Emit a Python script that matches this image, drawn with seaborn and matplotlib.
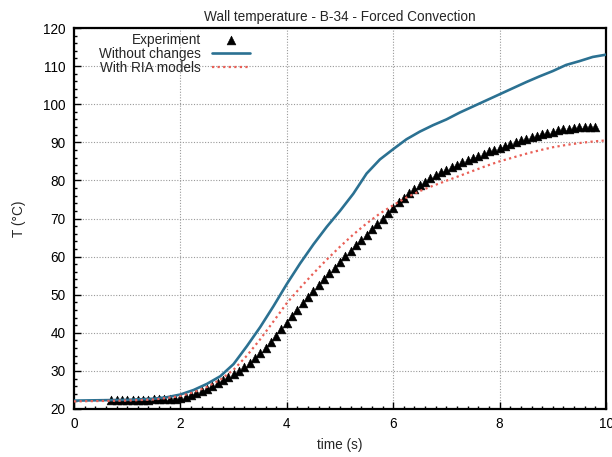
import matplotlib
matplotlib.use("Agg")
import matplotlib.pyplot as plt
import seaborn as sns
import pandas as pd
import numpy as np

# ---------------- data ----------------
exp_t = [0.7, 0.8, 0.9, 1.0, 1.1, 1.2, 1.3, 1.4, 1.5, 1.6, 1.7, 1.8, 1.9,
         2.0, 2.1, 2.2, 2.3, 2.4, 2.5, 2.6, 2.7, 2.8, 2.9, 3.0, 3.1, 3.2,
         3.3, 3.4, 3.5, 3.6, 3.7, 3.8, 3.9, 4.0, 4.1, 4.2, 4.3, 4.4, 4.5,
         4.6, 4.7, 4.8, 4.9, 5.0, 5.1, 5.2, 5.3, 5.4, 5.5, 5.6, 5.7, 5.8,
         5.9, 6.0, 6.1, 6.2, 6.3, 6.4, 6.5, 6.6, 6.7, 6.8, 6.9, 7.0, 7.1,
         7.2, 7.3, 7.4, 7.5, 7.6, 7.7, 7.8, 7.9, 8.0, 8.1, 8.2, 8.3, 8.4,
         8.5, 8.6, 8.7, 8.8, 8.9, 9.0, 9.1, 9.2, 9.3, 9.4, 9.5, 9.6, 9.7, 9.8]
exp_T = [22.3, 22.3, 22.3, 22.3, 22.3, 22.3, 22.4, 22.4, 22.5, 22.5, 22.6, 22.6, 22.7,
         22.9, 23.2, 23.6, 24.1, 24.7, 25.3, 26.0, 26.8, 27.6, 28.4, 29.2, 30.1, 31.1,
         32.2, 33.4, 34.7, 36.1, 37.6, 39.2, 40.9, 42.6, 44.3, 46.0, 47.7, 49.4, 51.0,
         52.6, 54.1, 55.6, 57.1, 58.6, 60.1, 61.6, 63.0, 64.4, 65.8, 67.2, 68.6, 70.0,
         71.4, 72.8, 74.2, 75.5, 76.7, 77.8, 78.8, 79.7, 80.6, 81.4, 82.1, 82.8, 83.5,
         84.1, 84.7, 85.3, 85.9, 86.5, 87.0, 87.6, 88.1, 88.6, 89.1, 89.6, 90.1, 90.5,
         90.9, 91.3, 91.7, 92.1, 92.5, 92.8, 93.1, 93.4, 93.6, 93.8, 94.0, 94.1, 94.1, 94.0]

sim_t = [0.0, 0.5, 1.0, 1.5, 1.75, 2.0, 2.25, 2.5, 2.75, 3.0, 3.25, 3.5, 3.75,
         4.0, 4.25, 4.5, 4.75, 5.0, 5.25, 5.5, 5.75, 6.0, 6.25, 6.5, 6.75,
         7.0, 7.25, 7.5, 7.75, 8.0, 8.25, 8.5, 8.75, 9.0, 9.25, 9.5, 9.75, 10.0]
without_T = [22.2, 22.3, 22.4, 22.7, 23.1, 23.8, 25.0, 26.6, 28.6, 31.8, 36.5, 41.5, 47.0,
             52.8, 58.2, 63.2, 67.8, 72.0, 76.5, 81.8, 85.5, 88.2, 90.8, 92.8, 94.5,
             96.0, 97.8, 99.4, 101.0, 102.6, 104.2, 105.8, 107.3, 108.7, 110.3, 111.3, 112.4, 113.0]
ria_T = [22.0, 22.1, 22.2, 22.5, 22.9, 23.4, 24.4, 25.8, 27.7, 30.3, 34.0, 38.3, 43.0,
         47.8, 51.8, 55.6, 59.2, 62.6, 65.8, 68.7, 71.3, 73.5, 75.5, 77.2, 78.6,
         79.9, 81.2, 82.5, 83.8, 85.0, 86.0, 87.0, 87.9, 88.7, 89.3, 89.8, 90.2, 90.5]

x_ticks = [0, 2, 4, 6, 8, 10]
y_ticks = [20, 30, 40, 50, 60, 70, 80, 90, 100, 110, 120]

title = "Wall temperature - B-34 - Forced Convection"
xlabel = "time (s)"
ylabel = "T (°C)"

# ---------------- style ----------------
sns.set_style("white")
plt.rcParams['font.family'] = ['Liberation Sans', 'DejaVu Sans']
plt.rcParams['font.size'] = 9.8

blue = "#2b7192"
red = "#e95f56"
fs = 9.8

fig = plt.figure(figsize=(6.12, 4.57), dpi=100)
ax = fig.add_axes([74/612, 1-409/457, (606-74)/612, (409-28)/457])

df_exp = pd.DataFrame({"t": exp_t, "T": exp_T})
df_sim = pd.DataFrame({"t": sim_t, "without": without_T, "ria": ria_T})

sns.scatterplot(data=df_exp, x="t", y="T", ax=ax, marker="^", color="black",
                s=40, linewidth=0.4, edgecolor="black", label="Experiment", zorder=3)
sns.lineplot(data=df_sim, x="t", y="without", ax=ax, color=blue, linewidth=1.9,
             label="Without changes", zorder=4)
sns.lineplot(data=df_sim, x="t", y="ria", ax=ax, color=red, linewidth=1.6,
             linestyle=(0, (1.0, 1.5)), label="With RIA models", zorder=5)

ax.set_xlim(0, 10)
ax.set_ylim(20, 120)
ax.set_xticks(x_ticks)
ax.set_yticks(y_ticks)
ax.set_xticks(np.arange(0, 10.01, 0.2), minor=True)
ax.set_yticks(np.arange(20, 120.01, 2), minor=True)
ax.tick_params(which="major", direction="in", length=5, width=1, colors="black",
               labelsize=fs, top=False, right=False, pad=6)
ax.tick_params(which="minor", direction="in", length=2.5, width=1, colors="black",
               top=False, right=False)
ax.tick_params(axis="x", which="both", bottom=True)
ax.tick_params(axis="y", which="both", left=True)

ax.grid(True, which="major", color="#999999", linestyle=(0, (1, 1.5)), linewidth=0.8)
ax.set_axisbelow(True)
for sp in ax.spines.values():
    sp.set_visible(True)
    sp.set_color("black")
    sp.set_linewidth(1.6)

ax.set_title(title, fontsize=fs, pad=5)
ax.set_xlabel(xlabel, fontsize=fs, labelpad=5)
ax.set_ylabel(ylabel, fontsize=fs, labelpad=12)

leg = ax.legend(loc="upper right", bbox_to_anchor=((250-74)/532, (409-33)/381),
                frameon=False, markerfirst=False, borderpad=0, labelspacing=0.0,
                handlelength=2.8, handletextpad=0.8, fontsize=fs,
                borderaxespad=0)

fig.savefig("out.png", dpi=100)
